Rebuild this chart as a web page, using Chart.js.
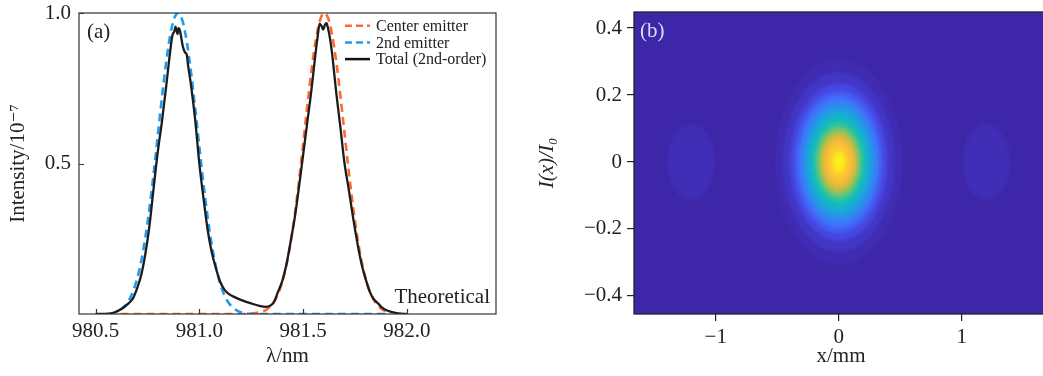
<!DOCTYPE html>
<html>
<head>
<meta charset="utf-8">
<script src="https://cdn.jsdelivr.net/npm/chart.js@4.4.0/dist/chart.umd.min.js"></script>
<style>
html, body { margin: 0; padding: 0; background: #fff; overflow: hidden; }
#wrapA { position: absolute; left: 0; top: 0; width: 520px; height: 376px; }
#wrapB { position: absolute; left: 520px; top: 0; width: 540px; height: 376px; }
</style>
</head>
<body>
<div id="wrapA"><canvas id="chartA" width="520" height="376"></canvas></div>
<div id="wrapB"><canvas id="chartB" width="540" height="376"></canvas></div>
<script>
// Panel (a): spectra
const lambdaEmit = [980.62, 980.64, 980.66, 980.68, 980.70, 980.72, 980.74, 980.76, 980.78, 980.80,
    980.82, 980.84, 980.86, 980.88, 980.90, 980.92, 980.94, 980.96, 980.98, 981.00,
    981.02, 981.04, 981.06, 981.08, 981.10, 981.12, 981.14, 981.16, 981.18, 981.20,
    981.22, 981.24, 981.26, 981.28, 981.30, 981.32, 981.34, 981.36, 981.38, 981.40,
    981.42, 981.44, 981.46, 981.48, 981.50, 981.52, 981.54, 981.56, 981.58, 981.60,
    981.62, 981.64, 981.66, 981.68, 981.70, 981.72, 981.74, 981.76, 981.78, 981.80,
    981.82, 981.84, 981.86, 981.88, 981.90];
const intensity2nd = [0.014, 0.026, 0.045, 0.074, 0.116, 0.176, 0.255, 0.353, 0.468, 0.594,
    0.720, 0.835, 0.927, 0.984, 1.000, 0.971, 0.903, 0.803, 0.683, 0.556,
    0.432, 0.322, 0.229, 0.156, 0.102, 0.064, 0.038, 0.022, 0.012, 0.006,
    0.003, 0.001, 0, 0, 0, 0, 0, 0, 0, 0,
    0, 0, 0, 0, 0, 0, 0, 0, 0, 0,
    0, 0, 0, 0, 0, 0, 0, 0, 0, 0,
    0, 0, 0, 0, 0];
const intensityCenter = [0, 0, 0, 0, 0, 0, 0, 0, 0, 0,
    0, 0, 0, 0, 0, 0, 0, 0, 0, 0,
    0, 0, 0, 0, 0, 0, 0, 0, 0, 0,
    0, 0.001, 0.002, 0.004, 0.007, 0.013, 0.024, 0.041, 0.067, 0.107,
    0.163, 0.237, 0.330, 0.440, 0.563, 0.688, 0.806, 0.905, 0.972, 1.000,
    0.984, 0.928, 0.838, 0.725, 0.600, 0.476, 0.361, 0.263, 0.183, 0.122,
    0.078, 0.048, 0.028, 0.016, 0.008];

const lambdaTotal = [980.50, 980.54, 980.56, 980.58, 980.60, 980.62, 980.64, 980.66, 980.68, 980.70,
    980.72, 980.74, 980.76, 980.78, 980.80, 980.82, 980.84, 980.86, 980.87, 980.88,
    980.885, 980.89, 980.895, 980.90, 980.905, 980.91, 980.92, 980.93, 980.94, 980.945,
    980.96, 980.98, 981.00, 981.02, 981.04, 981.06, 981.08, 981.10, 981.12, 981.14,
    981.17, 981.20, 981.25, 981.29, 981.32, 981.34, 981.36, 981.38, 981.40, 981.42,
    981.44, 981.46, 981.48, 981.50, 981.52, 981.54, 981.56, 981.57, 981.58, 981.59,
    981.597, 981.605, 981.613, 981.62, 981.63, 981.64, 981.66, 981.68, 981.70, 981.72,
    981.74, 981.76, 981.78, 981.80, 981.82, 981.84, 981.86, 981.88, 981.90, 981.93,
    981.96, 982.00];
const intensityTotal = [0, 0, 0.001, 0.003, 0.008, 0.015, 0.024, 0.036, 0.052, 0.085,
    0.13, 0.20, 0.295, 0.42, 0.54, 0.64, 0.755, 0.875, 0.925, 0.94,
    0.955, 0.945, 0.93, 0.95, 0.945, 0.93, 0.89, 0.87, 0.86, 0.83,
    0.76, 0.645, 0.50, 0.385, 0.28, 0.205, 0.152, 0.108, 0.082, 0.068,
    0.056, 0.047, 0.035, 0.027, 0.024, 0.027, 0.040, 0.075, 0.11, 0.165,
    0.24, 0.32, 0.42, 0.527, 0.635, 0.742, 0.865, 0.92, 0.965, 0.955,
    0.945, 0.96, 0.966, 0.95, 0.915, 0.865, 0.735, 0.62, 0.50, 0.415,
    0.325, 0.243, 0.172, 0.12, 0.077, 0.05, 0.036, 0.022, 0.013, 0.006,
    0.002, 0];

const xTicksA = [980.5, 981.0, 981.5, 982.0];
const yTicksA = [0.5, 1.0];
const legendLabels = ['Center emitter', '2nd emitter', 'Total (2nd-order)'];

// Panel (b): beam profile, filled contours
const blobCenterX = [0, -1.2, 1.2];
const blobCenterY = [0, 0, 0];
const mainLevels = [0.02, 0.05, 0.10, 0.15, 0.20, 0.25, 0.30, 0.35, 0.40, 0.45, 0.50,
    0.55, 0.60, 0.65, 0.70, 0.75, 0.80, 0.85, 0.90, 0.95, 0.98];
const mainRx = [0.517, 0.453, 0.397, 0.360, 0.331, 0.308, 0.287, 0.268, 0.250, 0.234, 0.217,
    0.202, 0.186, 0.172, 0.156, 0.140, 0.124, 0.105, 0.085, 0.059, 0.037];
const mainRy = [0.306, 0.268, 0.235, 0.213, 0.196, 0.182, 0.170, 0.159, 0.148, 0.139, 0.128,
    0.120, 0.110, 0.102, 0.092, 0.083, 0.073, 0.062, 0.050, 0.035, 0.022];
const lobeLevel = 0.025;
const lobeRx = 0.193;
const lobeRy = 0.113;

const xTicksB = [-1, 0, 1];
const yTicksB = [-0.4, -0.2, 0, 0.2, 0.4];

// parula-like colour map
const parulaStops = [
    [0.00, 62, 38, 168], [0.10, 70, 70, 225], [0.20, 65, 115, 252], [0.30, 38, 148, 232],
    [0.40, 25, 172, 213], [0.50, 18, 190, 185], [0.60, 70, 198, 140], [0.70, 170, 192, 75],
    [0.80, 240, 184, 60], [0.90, 253, 198, 48], [1.00, 249, 251, 20]
];
function parula(t) {
    for (let i = 1; i < parulaStops.length; i++) {
        const a = parulaStops[i - 1], b = parulaStops[i];
        if (t <= b[0]) {
            const f = (t - a[0]) / (b[0] - a[0]);
            return `rgb(${Math.round(a[1] + f * (b[1] - a[1]))},${Math.round(a[2] + f * (b[2] - a[2]))},${Math.round(a[3] + f * (b[3] - a[3]))})`;
        }
    }
    return 'rgb(249,251,20)';
}

const serif = "'Liberation Serif', 'DejaVu Serif', serif";
const ink = '#222';
const minus = v => String(v).replace('-', '\u2212');
// keep the plot boxes where the reference has them
const fitY = w => s => { s.width = w; s.paddingTop = 0; s.paddingBottom = 0; };
const fitX = h => s => { s.height = h; s.paddingLeft = 0; s.paddingRight = 0; };

// ---------- chart (a)
const panelA = {
    id: 'panelA',
    afterDraw(chart) {
        const { ctx, chartArea: a, scales } = chart;
        ctx.save();
        ctx.strokeStyle = '#333';
        ctx.lineWidth = 1.2;
        ctx.strokeRect(a.left, a.top, a.right - a.left, a.bottom - a.top);
        ctx.beginPath();
        xTicksA.forEach(v => {
            const px = Math.round(scales.x.getPixelForValue(v)) + 0.5;
            ctx.moveTo(px, a.bottom); ctx.lineTo(px, a.bottom - 5);
        });
        yTicksA.forEach(v => {
            const py = Math.round(scales.y.getPixelForValue(v)) + 0.5;
            ctx.moveTo(a.left, py); ctx.lineTo(a.left + 5, py);
        });
        ctx.stroke();

        ctx.fillStyle = ink;
        ctx.font = `21px ${serif}`;
        ctx.textBaseline = 'middle';
        ctx.textAlign = 'left';
        ctx.fillText('(a)', a.left + 8, a.top + 19);
        ctx.textAlign = 'right';
        ctx.fillText('Theoretical', a.right - 6, a.bottom - 17);

        // legend
        const styles = [
            { color: '#ff6a33', dash: [7, 4], width: 2.5 },
            { color: '#1e9cf0', dash: [7, 4], width: 2.5 },
            { color: '#111', dash: [], width: 2.5 }
        ];
        ctx.font = `16px ${serif}`;
        ctx.textAlign = 'left';
        legendLabels.forEach((label, i) => {
            const y = a.top + 12.7 + i * 16.7;
            ctx.strokeStyle = styles[i].color;
            ctx.lineWidth = styles[i].width;
            ctx.setLineDash(styles[i].dash);
            ctx.beginPath();
            ctx.moveTo(345, y); ctx.lineTo(370, y);
            ctx.stroke();
            ctx.setLineDash([]);
            ctx.fillText(label, 376, y + 1);
        });
        ctx.restore();
    }
};

const pts = (xs, ys) => xs.map((x, i) => ({ x: x, y: ys[i] }));

new Chart(document.getElementById('chartA'), {
    type: 'line',
    data: {
        datasets: [
            {
                label: legendLabels[2],
                data: pts(lambdaTotal, intensityTotal),
                borderColor: '#1c1c1c',
                borderWidth: 2.3,
                pointRadius: 0,
                cubicInterpolationMode: 'monotone',
                order: 0
            },
            {
                label: legendLabels[1],
                data: pts(lambdaEmit, intensity2nd),
                borderColor: '#1e9cf0',
                borderWidth: 2.6,
                borderDash: [8, 5],
                pointRadius: 0,
                cubicInterpolationMode: 'monotone',
                order: 1
            },
            {
                label: legendLabels[0],
                data: pts(lambdaEmit, intensityCenter),
                borderColor: '#ff6a33',
                borderWidth: 2.6,
                borderDash: [8, 5],
                pointRadius: 0,
                cubicInterpolationMode: 'monotone',
                order: 2
            }
        ]
    },
    options: {
        responsive: false,
        animation: false,
        layout: { padding: { left: 0, right: 24, top: 13, bottom: 0 } },
        plugins: { legend: { display: false }, tooltip: { enabled: false } },
        scales: {
            x: {
                type: 'linear',
                min: 980.42,
                max: 982.43,
                afterBuildTicks: s => { s.ticks = xTicksA.map(v => ({ value: v })); },
                afterFit: fitX(62),
                grid: { display: false, drawTicks: false },
                border: { display: false },
                ticks: { padding: 5, color: ink, font: { family: serif, size: 21 }, callback: v => v.toFixed(1) },
                title: { display: true, text: 'λ/nm', color: ink, font: { family: serif, size: 21 }, padding: { top: 0, bottom: 7 } }
            },
            y: {
                type: 'linear',
                min: 0,
                max: 1.0,
                afterBuildTicks: s => { s.ticks = yTicksA.map(v => ({ value: v })); },
                afterFit: fitY(79),
                grid: { display: false, drawTicks: false },
                border: { display: false },
                ticks: { padding: 8, color: ink, font: { family: serif, size: 21 }, callback: v => v.toFixed(1) },
                title: { display: true, text: 'Intensity/10⁻⁷', color: ink, font: { family: serif, size: 21 }, padding: { top: 6, bottom: 0 } }
            }
        }
    },
    plugins: [panelA]
});

// ---------- chart (b)
const panelB = {
    id: 'panelB',
    beforeDatasetsDraw(chart) {
        const { ctx, chartArea: a, scales } = chart;
        const sx = scales.x, sy = scales.y;
        ctx.save();
        ctx.beginPath();
        ctx.rect(a.left, a.top, a.right - a.left, a.bottom - a.top);
        ctx.clip();
        ctx.fillStyle = parula(0);
        ctx.fillRect(a.left, a.top, a.right - a.left, a.bottom - a.top);
        ctx.filter = 'blur(1.5px)';
        const ellipse = (cx, cy, rx, ry, level) => {
            const px = sx.getPixelForValue(cx), py = sy.getPixelForValue(cy);
            const rpx = Math.abs(sx.getPixelForValue(cx + rx) - px);
            const rpy = Math.abs(sy.getPixelForValue(cy + ry) - py);
            ctx.fillStyle = parula(level);
            ctx.beginPath();
            ctx.ellipse(px, py, rpx, rpy, 0, 0, Math.PI * 2);
            ctx.fill();
        };
        for (let k = 1; k < blobCenterX.length; k++) {
            ellipse(blobCenterX[k], blobCenterY[k], lobeRx, lobeRy, lobeLevel);
        }
        mainLevels.forEach((lv, i) => ellipse(blobCenterX[0], blobCenterY[0], mainRx[i], mainRy[i], lv));
        ctx.restore();
    },
    afterDraw(chart) {
        const { ctx, chartArea: a } = chart;
        ctx.save();
        ctx.strokeStyle = '#222';
        ctx.lineWidth = 1.3;
        ctx.strokeRect(a.left, a.top, a.right - a.left, a.bottom - a.top);
        ctx.fillStyle = '#dcdcf0';
        ctx.font = `21px ${serif}`;
        ctx.textBaseline = 'middle';
        ctx.textAlign = 'left';
        ctx.fillText('(b)', a.left + 6, a.top + 19);
        ctx.restore();
    }
};

new Chart(document.getElementById('chartB'), {
    type: 'scatter',
    data: {
        datasets: [{
            data: pts(blobCenterX, blobCenterY),
            pointRadius: 0
        }]
    },
    options: {
        responsive: false,
        animation: false,
        layout: { padding: { left: 0, right: 12, top: 12, bottom: 0 } },
        plugins: { legend: { display: false }, tooltip: { enabled: false } },
        scales: {
            x: {
                type: 'linear',
                min: -1.664,
                max: 1.70,
                afterBuildTicks: s => { s.ticks = xTicksB.map(v => ({ value: v })); },
                afterFit: fitX(62),
                grid: { drawOnChartArea: false, drawTicks: true, tickLength: 7, color: '#222', lineWidth: 1.2 },
                border: { display: false },
                ticks: { padding: 4, color: ink, font: { family: serif, size: 21 }, callback: v => minus(v) },
                title: { display: true, text: 'x/mm', color: ink, font: { family: serif, size: 21 }, padding: { top: 0, bottom: 7 } }
            },
            y: {
                type: 'linear',
                min: -0.454,
                max: 0.448,
                afterBuildTicks: s => { s.ticks = yTicksB.map(v => ({ value: v })); },
                afterFit: fitY(114),
                grid: { drawOnChartArea: false, drawTicks: true, tickLength: 7, color: '#222', lineWidth: 1.2 },
                border: { display: false },
                ticks: { padding: 5, color: ink, font: { family: serif, size: 21 }, callback: v => v === 0 ? '0' : minus(v.toFixed(1)) },
                title: { display: true, text: 'I(x)/I₀', color: ink, font: { family: serif, size: 21, style: 'italic' }, padding: { top: 15, bottom: 0 } }
            }
        }
    },
    plugins: [panelB]
});
</script>
</body>
</html>
